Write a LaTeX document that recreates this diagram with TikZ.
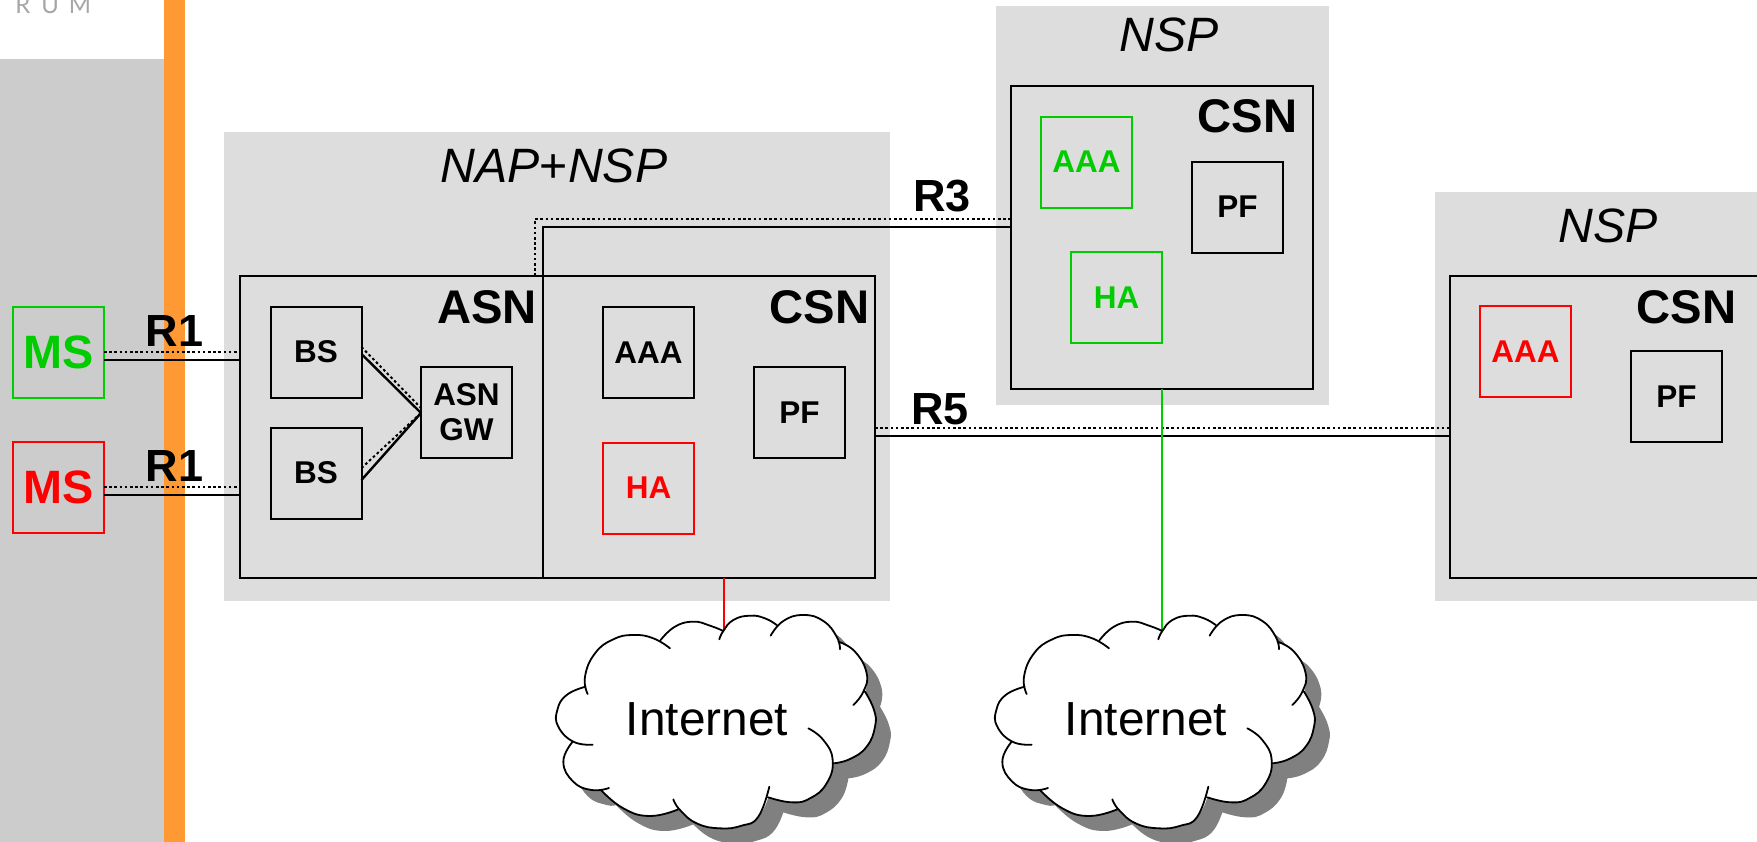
\documentclass[tikz,border=0pt]{standalone}
\usepackage{fontspec}
\setmainfont{Liberation Sans}
\newfontfamily\logofont{Lato}
\definecolor{panelA}{HTML}{CCCCCC}
\definecolor{panelB}{HTML}{DDDDDD}
\definecolor{barO}{HTML}{FF9933}
\definecolor{msgreen}{HTML}{00CC00}
\definecolor{msred}{HTML}{FF0000}
\definecolor{shadowc}{HTML}{808080}
\tikzset{
  unit/.style={draw=black,line width=1bp,minimum width=45.5bp,minimum height=45.5bp,inner sep=0pt,outer sep=0pt,font=\fontsize{15.8}{17.5}\selectfont\bfseries,align=center},
  gnode/.style={unit,draw=msgreen,text=msgreen},
  rnode/.style={unit,draw=msred,text=msred},
  msnode/.style={font=\fontsize{23.5}{27}\selectfont\bfseries},
  netbox/.style={draw=black,line width=1bp,inner sep=0pt,outer sep=0pt},
  bigl/.style={font=\fontsize{23.7}{26}\selectfont\bfseries,inner sep=0pt},
  rlabel/.style={font=\fontsize{22.6}{26}\selectfont\bfseries,inner sep=0pt},
  ital/.style={font=\fontsize{24.2}{26}\selectfont\itshape,inner sep=0pt},
  solidlink/.style={line width=1.2bp,black},
  dotlink/.style={line width=1.3bp,black,dash pattern=on 1.3bp off 1.3bp},
  thinlink/.style={line width=0.75bp}
}
\newcommand{\cloudouter}{
  plot[smooth,tension=0.8] coordinates {(197,380)(197,350)(225,280)(280,238)(340,225)(400,235)(422,240)}
  -- plot[smooth,tension=0.8] coordinates {(422,240)(465,200)(520,185)(570,197)(610,213)}
  -- plot[smooth,tension=0.8] coordinates {(610,213)(640,180)(690,167)(735,175)(770,195)}
  -- plot[smooth,tension=0.8] coordinates {(770,195)(800,175)(850,165)(910,183)(955,240)}
  -- plot[smooth,tension=0.8] coordinates {(955,245)(1005,275)(1040,340)(1035,395)}
  -- plot[smooth,tension=0.8] coordinates {(1035,395)(1062,450)(1065,500)(1040,560)(990,597)(940,610)}
  -- plot[smooth,tension=0.8] coordinates {(940,610)(920,670)(870,715)(815,727)(745,712)}
  -- plot[smooth,tension=0.8] coordinates {(745,712)(715,770)(665,797)(600,805)(530,790)(475,748)}
  -- plot[smooth,tension=0.8] coordinates {(475,748)(390,768)(310,745)(243,690)}
  -- plot[smooth,tension=0.8] coordinates {(243,690)(215,690)(160,665)(130,605)(158,545)}
  -- plot[smooth,tension=0.8] coordinates {(158,545)(115,500)(112,450)(140,405)(197,380)}
  -- cycle}
\newcommand{\cloudshape}[2]{%
  \begin{scope}[shift={(#1,#2)},x=0.16667bp,y=-0.16667bp]
    \fill[shadowc,shift={(45,45)}] \cloudouter;
    \fill[white] \cloudouter;
    \draw[black,line width=0.9bp,line cap=round]
      plot[smooth,tension=0.8] coordinates {(203,402)(195,350)(225,280)(280,238)(340,225)(400,235)(450,265)}
      plot[smooth,tension=0.8] coordinates {(422,240)(465,200)(520,185)(570,197)(610,213)}
      plot[smooth,tension=0.8] coordinates {(598,238)(610,213)(640,180)(690,167)(735,175)(770,195)}
      plot[smooth,tension=0.8] coordinates {(752,227)(790,183)(850,165)(910,183)(950,230)(960,268)}
      plot[smooth,tension=0.8] coordinates {(955,245)(1005,275)(1040,340)(1030,395)(1000,435)}
      plot[smooth,tension=0.8] coordinates {(1035,395)(1062,450)(1065,500)(1040,560)(990,597)(940,610)}
      plot[smooth,tension=0.8] coordinates {(865,505)(910,540)(938,600)(920,670)(870,715)(815,727)(745,712)}
      plot[smooth,tension=0.8] coordinates {(748,680)(715,770)(665,797)(600,805)(530,790)(480,750)(460,718)}
      plot[smooth,tension=0.8] coordinates {(475,748)(390,768)(310,745)(243,690)}
      plot[smooth,tension=0.8] coordinates {(267,684)(215,690)(160,665)(130,605)(158,545)}
      plot[smooth,tension=0.8] coordinates {(218,554)(160,545)(115,500)(112,450)(140,405)(197,380)};
  \end{scope}}
\begin{document}
\begin{tikzpicture}[x=0.5bp,y=-0.5bp]
\useasboundingbox (0,0) rectangle (1757,842);
\clip (0,0) rectangle (1757,842);
\fill[white] (0,0) rectangle (1757,842);
% background panels
\fill[panelA] (0,59) rectangle (164,842);
\fill[barO] (164,0) rectangle (185,842);
\fill[panelB] (224,132) rectangle (890,601);
\fill[panelB] (996,6) rectangle (1329,405);
\fill[panelB] (1435,192) rectangle (1770,601);
\node[anchor=base west,inner sep=0pt,text=black!35,font=\logofont\fontsize{12}{14}\selectfont] (logo) at (15,13) {R\hspace{5.5pt}U\hspace{5pt}M};
% domains
\node[netbox,minimum width=151.5bp,minimum height=151bp] (asn) at (391.5,427) {};
\node[netbox,minimum width=166bp,minimum height=151bp] (csna) at (709,427) {};
\node[netbox,minimum width=151bp,minimum height=151.5bp] (csnb) at (1162,237.5) {};
\node[netbox,minimum width=170bp,minimum height=151bp] (csnc) at (1620,427) {};
% unit boxes
\node[gnode,msnode] (ms1) at (58.5,352.5) {MS};
\node[rnode,msnode] (ms2) at (58.5,487) {MS};
\node[unit] (bs1) at (316,352) {BS};
\node[unit] (bs2) at (316,473) {BS};
\node[unit] (gw) at (466.5,412.5) {ASN\\GW};
\node[unit] (aaa1) at (648.5,352.5) {AAA};
\node[unit] (pf1) at (799.5,412.5) {PF};
\node[rnode] (ha1) at (648.5,488) {HA};
\node[gnode] (aaa2) at (1086.5,162) {AAA};
\node[unit] (pf2) at (1237.5,207) {PF};
\node[gnode] (ha2) at (1116.5,297.5) {HA};
\node[rnode] (aaa3) at (1525.5,351.5) {AAA};
\node[unit] (pf3) at (1676.5,396.5) {PF};
% reference point links
\draw[solidlink] (ms1.east |- 0,360) -- (asn.west |- 0,360);
\draw[dotlink] (ms1.east |- 0,352) -- (asn.west |- 0,352);
\draw[solidlink] (ms2.east |- 0,495) -- (asn.west |- 0,495);
\draw[dotlink] (ms2.east |- 0,487) -- (asn.west |- 0,487);
\draw[solidlink] (bs1.east |- 0,354) -- (gw.west |- 0,413);
\draw[dotlink,line width=1bp] (bs1.east |- 0,347) -- (gw.west |- 0,408);
\draw[solidlink] (bs2.east |- 0,480) -- (gw.west |- 0,413);
\draw[dotlink,line width=1bp] (bs2.east |- 0,468) -- (gw.west |- 0,413);
\draw[solidlink] (csna.north west) |- (csnb.west |- 0,227);
\draw[dotlink] (535,276) |- (csnb.west |- 0,219);
\draw[solidlink] (csna.east |- 0,436) -- (csnc.west |- 0,436);
\draw[dotlink] (csna.east |- 0,428) -- (csnc.west |- 0,428);
% clouds
\coordinate (cloudtipa) at (724,631);
\coordinate (cloudtipb) at (1162,631);
\draw[msred,thinlink] (724,578) -- (cloudtipa);
\draw[msgreen,thinlink] (1162,389) -- (cloudtipb);
\cloudshape{520}{560}
\cloudshape{959}{560}
\node[inner sep=0pt,font=\fontsize{24}{26}\selectfont] (net1) at (707,719) {Internet};
\node[inner sep=0pt,font=\fontsize{24}{26}\selectfont] (net2) at (1146,719) {Internet};
% labels
\node[bigl] (lasn) at (487,307) {ASN};
\node[bigl] (lcsn1) at (819.5,307) {CSN};
\node[bigl] (lcsn2) at (1247.5,116) {CSN};
\node[bigl] (lcsn3) at (1686.5,307) {CSN};
\node[ital] (lnap) at (554,166) {NAP{\upshape+}NSP};
\node[ital] (lnsp1) at (1169,35) {NSP};
\node[ital] (lnsp2) at (1608,226) {NSP};
\node[rlabel] (r1a) at (174.5,331) {R1};
\node[rlabel] (r1b) at (174.5,466) {R1};
\node[rlabel] (r3) at (942,196) {R3};
\node[rlabel] (r5) at (940,409) {R5};
\end{tikzpicture}
\end{document}
